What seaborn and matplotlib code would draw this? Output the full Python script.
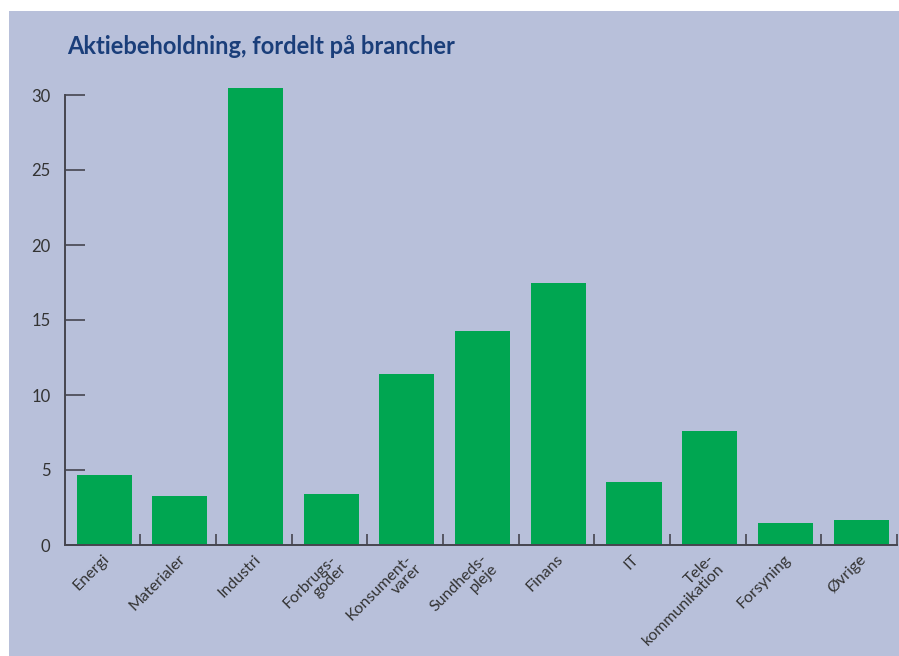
import matplotlib
matplotlib.use("Agg")
import matplotlib.pyplot as plt
import seaborn as sns
import pandas as pd
from matplotlib.patches import Rectangle

categories = ["Energi", "Materialer", "Industri", "Forbrugs-\ngoder", "Konsument-\nvarer",
              "Sundheds-\npleje", "Finans", "IT", "Tele-\nkommunikation", "Forsyning", "Øvrige"]
values = [4.7, 3.3, 30.5, 3.4, 11.4, 14.3, 17.5, 4.2, 7.6, 1.5, 1.7]
yticks = [0, 5, 10, 15, 20, 25, 30]
title = "Aktiebeholdning, fordelt på brancher"

BG = "#B8C0DA"
GREEN = "#00A651"
AXC = "#45454f"
TXT = "#333333"

sns.set_theme(style="white")
plt.rcParams["font.family"] = ["Lato", "DejaVu Sans"]

W, H = 899, 656
fig = plt.figure(figsize=(W / 100, H / 100), dpi=100, facecolor="white")
fig.patches.append(Rectangle((9 / W, 0), 1 - 9 / W, 1 - 11 / H, transform=fig.transFigure,
                             facecolor=BG, edgecolor="none", zorder=-10))

left, right = 64.5 / W, 897 / W
bottom = (H - 545) / H
top = (H - 80) / H
ax = fig.add_axes([left, bottom, right - left, top - bottom])
ax.set_facecolor("none")

df = pd.DataFrame({"cat": categories, "val": values})
sns.barplot(data=df, x="cat", y="val", color=GREEN, saturation=1, width=0.727,
            linewidth=0, edgecolor="none", ax=ax)
for p in ax.patches:
    p.set_x(p.get_x() + 0.025)

ax.set_xlim(-0.5, len(categories) - 0.5)
ax.set_ylim(0, 31)
ax.set_xlabel("")
ax.set_ylabel("")

for s in ["top", "right"]:
    ax.spines[s].set_visible(False)
ax.spines["left"].set_bounds(0, 30)
for s in ["left", "bottom"]:
    ax.spines[s].set_color(AXC)
    ax.spines[s].set_linewidth(1.4)

ax.set_yticks(yticks)
ax.set_yticklabels([str(v) for v in yticks])
ax.tick_params(axis="y", direction="in", length=14.4, width=1.2, color=AXC, pad=10,
               labelsize=12, labelcolor=TXT, left=True)

ax.set_xticks(range(len(categories)))
ax.set_xticks([i + 0.5 for i in range(len(categories))], minor=True)
ax.tick_params(axis="x", which="major", length=0, pad=5, labelsize=11.5, labelcolor=TXT)
ax.tick_params(axis="x", which="minor", direction="in", length=8, width=1.2, color=AXC, bottom=True)
ax.set_xticklabels(categories, rotation=45, ha="right", rotation_mode="anchor",
                   multialignment="right", linespacing=0.95)

fig.text(67 / W, 1 - 47 / H, title, fontsize=17, fontweight="bold", color="#1A3E7A",
         va="center", ha="left")

fig.savefig("out.png", dpi=100, facecolor="white")
